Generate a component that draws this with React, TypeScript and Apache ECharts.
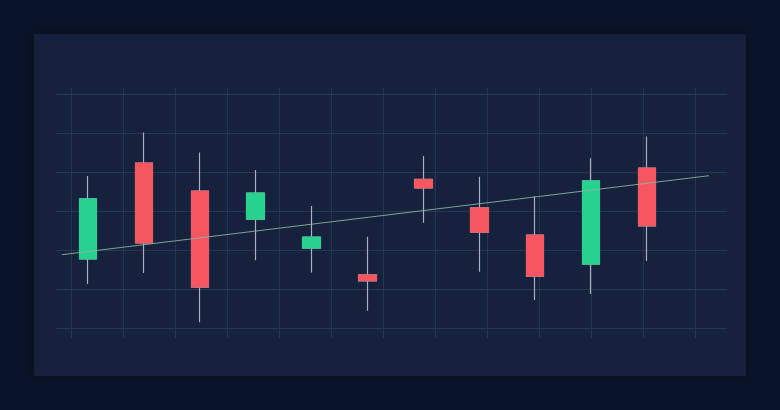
import React, { useEffect, useRef } from "react";
import * as echarts from "echarts";

// [open, close, low, high]
const categories = ["1", "2", "3", "4", "5", "6", "7", "8", "9", "10", "11"];
const opens = [117.7, 142.3, 135.1, 127.9, 120.5, 113.6, 138.1, 130.8, 123.8, 116.4, 141.0];
const closes = [133.1, 121.8, 110.5, 134.6, 123.3, 112.1, 135.9, 124.6, 113.3, 137.7, 126.2];
const lows = [111.3, 114.1, 101.5, 117.4, 114.2, 104.4, 127.0, 114.4, 107.2, 108.7, 117.2];
const highs = [139.0, 150.1, 145.0, 140.5, 131.3, 123.4, 144.1, 138.8, 133.7, 143.5, 149.1];
const trendX = [0, 1];
const trendY = [118.8, 139.05];

const UP = "#27d18e";
const DOWN = "#f6565f";
const WICK = "#a7afbd";
const GRID = "#263653";

export default function App() {
  const ref = useRef<HTMLDivElement>(null);
  useEffect(() => {
    if (!ref.current) return;
    const chart = echarts.init(ref.current, null, { renderer: "svg" });
    const full = categories.map((_, i) => [opens[i], closes[i], lows[i], highs[i]]);
    const bodies = categories.map((_, i) => [
      opens[i],
      closes[i],
      Math.min(opens[i], closes[i]),
      Math.max(opens[i], closes[i]),
    ]);
    const hidden = { show: false };
    chart.setOption({
      animation: false,
      backgroundColor: "#0a1428",
      graphic: [
        {
          type: "rect",
          z: -10,
          shape: { x: 34, y: 34, width: 712, height: 342 },
          style: {
            fill: "#14213d",
            shadowBlur: 6,
            shadowColor: "rgba(0,0,0,0.5)",
          },
        },
      ],
      grid: [
        // horizontal grid lines
        { left: 56, right: 53, top: 94, bottom: 82 },
        // vertical grid lines
        { left: 71, right: 85, top: 88, bottom: 72 },
        // candles
        { left: 60, right: 105, top: 94, bottom: 82 },
        // trend line
        { left: 62, right: 71, top: 94, bottom: 82 },
      ],
      xAxis: [
        { type: "value", gridIndex: 0, min: 0, max: 1, axisLine: hidden, axisTick: hidden, axisLabel: hidden, splitLine: hidden },
        {
          type: "value", gridIndex: 1, min: 0, max: 12, interval: 1,
          axisLine: hidden, axisTick: hidden, axisLabel: hidden,
          splitLine: { show: true, lineStyle: { color: GRID, width: 1 } },
        },
        { type: "category", gridIndex: 2, data: categories, axisLine: hidden, axisTick: hidden, axisLabel: hidden, splitLine: hidden },
        { type: "value", gridIndex: 3, min: 0, max: 1, axisLine: hidden, axisTick: hidden, axisLabel: hidden, splitLine: hidden },
      ],
      yAxis: [
        {
          type: "value", gridIndex: 0, min: 100, max: 160, interval: 10,
          axisLine: hidden, axisTick: hidden, axisLabel: hidden,
          splitLine: { show: true, lineStyle: { color: GRID, width: 1 } },
        },
        { type: "value", gridIndex: 1, min: 0, max: 1, axisLine: hidden, axisTick: hidden, axisLabel: hidden, splitLine: hidden },
        { type: "value", gridIndex: 2, min: 100, max: 160, axisLine: hidden, axisTick: hidden, axisLabel: hidden, splitLine: hidden },
        { type: "value", gridIndex: 3, min: 100, max: 160, axisLine: hidden, axisTick: hidden, axisLabel: hidden, splitLine: hidden },
      ],
      series: [
        {
          type: "candlestick",
          xAxisIndex: 2,
          yAxisIndex: 2,
          data: full,
          barWidth: 18,
          z: 2,
          itemStyle: {
            color: WICK,
            color0: WICK,
            borderColor: WICK,
            borderColor0: WICK,
            borderWidth: 1.2,
          },
        },
        {
          type: "candlestick",
          xAxisIndex: 2,
          yAxisIndex: 2,
          data: bodies,
          barWidth: 18,
          z: 3,
          itemStyle: {
            color: UP,
            color0: DOWN,
            borderColor: UP,
            borderColor0: DOWN,
            borderWidth: 1,
          },
        },
        {
          type: "line",
          xAxisIndex: 3,
          yAxisIndex: 3,
          data: trendX.map((x, i) => [x, trendY[i]]),
          symbol: "none",
          z: 4,
          lineStyle: { color: "#8fb8a4", width: 1, opacity: 0.85 },
        },
      ],
    });
    return () => chart.dispose();
  }, []);
  return (
    <div
      ref={ref}
      style={{ position: "absolute", left: 0, top: 0, width: 780, height: 410 }}
    />
  );
}
